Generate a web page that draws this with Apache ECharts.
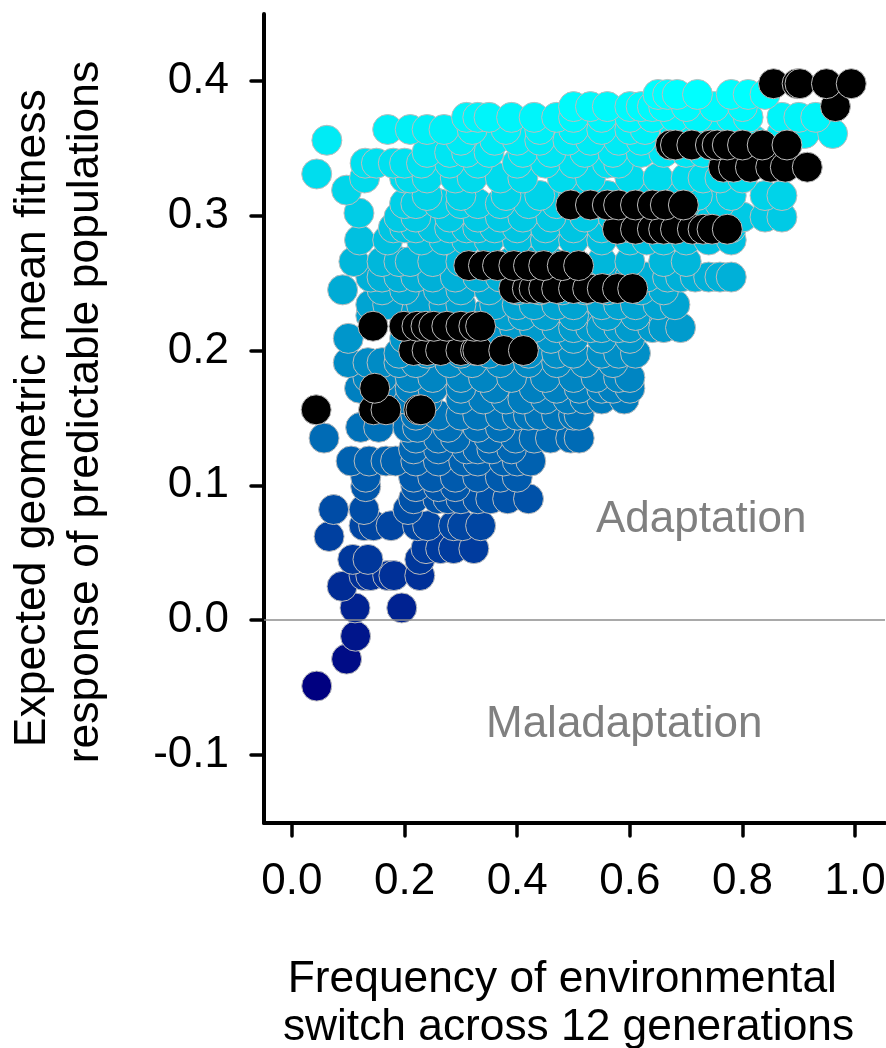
<!DOCTYPE html>
<html><head><meta charset="utf-8">
<style>html,body{margin:0;padding:0;background:#fff}#c{width:886px;height:1048px}</style>
<script src="https://cdn.jsdelivr.net/npm/echarts@6/dist/echarts.min.js"></script>
</head><body><div id="c"></div>
<script>
const xTicks=[0,0.2,0.4,0.6,0.8,1.0];
const yTicks=[-0.1,0,0.1,0.2,0.3,0.4];
const xTitle='Frequency of environmental\u00a0\nswitch across 12 generations';
const yTitle='Expected geometric mean fitness\u00a0\nresponse of predictable populations';
const rowLevels=[-0.049,-0.029,-0.012,0.009,0.025,0.033,0.045,0.053,0.062,0.07,0.082,0.09,0.099,0.106,0.118,0.127,0.135,0.143,0.152,0.164,0.172,0.18,0.191,0.198,0.209,0.217,0.226,0.234,0.245,0.2545,0.266,0.282,0.291,0.299,0.302,0.309,0.315,0.319,0.328,0.331,0.339,0.347,0.356,0.361,0.364,0.373,0.381,0.39];
const rowXs=[
[0.044],
[0.097],
[0.113],
[0.112,0.195],
[0.089],
[0.128,0.14,0.17,0.181,0.227],
[0.108,0.135,0.227],
[0.238,0.264,0.287,0.323],
[0.066],
[0.128,0.145,0.176,0.223,0.241,0.287,0.303,0.335],
[0.074,0.128,0.206],
[0.216,0.259,0.277,0.3,0.33,0.353,0.383,0.42],
[0.131,0.22,0.26,0.29],
[0.131,0.216,0.25,0.29,0.33,0.37,0.4],
[0.105,0.137,0.167,0.184,0.22,0.26,0.305,0.33,0.376,0.4,0.424],
[0.216,0.26,0.31,0.33,0.355,0.39],
[0.057,0.22,0.26,0.29,0.35,0.397,0.43,0.459,0.495,0.51],
[0.122,0.154,0.206,0.223,0.277,0.33,0.37],
[0.22,0.26,0.3,0.33,0.37,0.4,0.42,0.44,0.47,0.5,0.51],
[0.2,0.24,0.3,0.34,0.38,0.41,0.45,0.49,0.52,0.55,0.59],
[0.12,0.16,0.21,0.25,0.3,0.36,0.43,0.47,0.51,0.55,0.57,0.6],
[0.135,0.16,0.21,0.25,0.3,0.34,0.39,0.45,0.5,0.54,0.58,0.6],
[0.1,0.135,0.16,0.19,0.22,0.28,0.32,0.37,0.42,0.47,0.52,0.57],
[0.19,0.24,0.3,0.35,0.42,0.47,0.5,0.55,0.58,0.61],
[0.1,0.2,0.25,0.3,0.36,0.42,0.46,0.5,0.55,0.6],
[0.395,0.43,0.47,0.5,0.53,0.55,0.58,0.6,0.64,0.66,0.69],
[0.14,0.2,0.24,0.3,0.34,0.38,0.41,0.45,0.5,0.56,0.61],
[0.14,0.17,0.23,0.27,0.3,0.36,0.4,0.43,0.47,0.5,0.55,0.58,0.61,0.65,0.68],
[0.09,0.16,0.2,0.26,0.3,0.35,0.4,0.44,0.48,0.52,0.56,0.62,0.66],
[0.14,0.16,0.19,0.22,0.25,0.29,0.33,0.37,0.41,0.46,0.52,0.57,0.6,0.63,0.667,0.69,0.716,0.74,0.76,0.78],
[0.11,0.16,0.19,0.21,0.25,0.3,0.35,0.39,0.42,0.46,0.5,0.55,0.6,0.66,0.7],
[0.12,0.17,0.23,0.27,0.31,0.35,0.4,0.45,0.5,0.55,0.6,0.63,0.66,0.7,0.74,0.78],
[0.18,0.2,0.22,0.25,0.28,0.31,0.33,0.36,0.4,0.45,0.5,0.55,0.6,0.66,0.72,0.78],
[0.19,0.22,0.28,0.33,0.37,0.41,0.46,0.52,0.57,0.62,0.66,0.7,0.74,0.8,0.84,0.87],
[0.119],
[0.2,0.22,0.26,0.3,0.33,0.37,0.42,0.47,0.54,0.6,0.64,0.7,0.76],
[0.24,0.3,0.38,0.44,0.5,0.56,0.62,0.67,0.72,0.78,0.84,0.87],
[0.097],
[0.129,0.2,0.21,0.24,0.29,0.32,0.37,0.41,0.48,0.53,0.6,0.65,0.7,0.73,0.76,0.8],
[0.044],
[0.13,0.15,0.18,0.2,0.23,0.28,0.33,0.4,0.45,0.5,0.56,0.58],
[0.24,0.28,0.31,0.35,0.41,0.46,0.52,0.57,0.62,0.66,0.7,0.73],
[0.062,0.3,0.36,0.4,0.44,0.49,0.53,0.58,0.62,0.78,0.82],
[0.87,0.91,0.96],
[0.17,0.21,0.24,0.27,0.32,0.38,0.44,0.5,0.55,0.6,0.627,0.68,0.74,0.8],
[0.31,0.33,0.35,0.39,0.43,0.47,0.5,0.55,0.6,0.64,0.68,0.72,0.78,0.81,0.87,0.9,0.93],
[0.5,0.53,0.56,0.6,0.62,0.64,0.66,0.7,0.75,0.8],
[0.65,0.667,0.684,0.72,0.78,0.81,0.84]
];
const blackLevels=[0.156,0.172,0.2,0.218,0.246,0.263,0.29,0.308,0.336,0.3525,0.381,0.398];
const blackXs=[
[0.043,0.145,0.167,0.225,0.229],
[0.147],
[0.216,0.24,0.264,0.3,0.326,0.33,0.376,0.411],
[0.144,0.199,0.222,0.238,0.252,0.275,0.3,0.323,0.335],
[0.394,0.418,0.43,0.447,0.47,0.5,0.525,0.551,0.578,0.605],
[0.314,0.34,0.365,0.394,0.42,0.447,0.48,0.509],
[0.578,0.61,0.64,0.66,0.681,0.711,0.73,0.746,0.773],
[0.495,0.53,0.56,0.58,0.61,0.64,0.663,0.695],
[0.766,0.784,0.814,0.85,0.876,0.915],
[0.672,0.681,0.71,0.743,0.755,0.773,0.8,0.835,0.879],
[0.965],
[0.855,0.897,0.902,0.949,0.993]
];
const toPoints=(lv,xs)=>lv.flatMap((y,i)=>xs[i].map(x=>[x,y]));
const font='"Liberation Sans",Arial,sans-serif';
const chart=echarts.init(document.getElementById('c'),null,{renderer:'canvas'});
chart.setOption({
 animation:false,
 backgroundColor:'#fff',
 grid:{left:264,right:1,top:14,bottom:225,containLabel:false,outerBoundsMode:'none'},
 xAxis:{type:'value',min:-0.0496,max:1.053,
  axisLine:{onZero:false,lineStyle:{color:'#000',width:4,cap:'round'}},
  axisTick:{show:true,length:13,lineStyle:{color:'#000',width:3.5,cap:'round'},customValues:xTicks},
  axisLabel:{color:'#000',fontSize:44,fontFamily:font,margin:37,customValues:xTicks,formatter:v=>v.toFixed(1),hideOverlap:false},
  splitLine:{show:false},
  name:xTitle,nameLocation:'middle',nameGap:133,nameTextStyle:{color:'#000',fontSize:44.3,fontFamily:font,lineHeight:48,padding:[0,12,0,0]}
 },
 yAxis:{type:'value',min:-0.1506,max:0.4497,
  axisLine:{onZero:false,lineStyle:{color:'#000',width:4,cap:'round'}},
  axisTick:{show:true,length:13,lineStyle:{color:'#000',width:3.5,cap:'round'},customValues:yTicks},
  axisLabel:{color:'#000',fontSize:44,fontFamily:font,margin:35,customValues:yTicks,formatter:v=>v.toFixed(1),hideOverlap:false},
  splitLine:{show:false},
  name:yTitle,nameLocation:'middle',nameGap:152,nameTextStyle:{color:'#000',fontSize:44.5,fontFamily:font,lineHeight:53,padding:[0,0,0,13]}
 },
 visualMap:{show:false,type:'continuous',seriesIndex:0,dimension:1,min:-0.049,max:0.39,inRange:{color:['#000080','#00ffff']}},
 series:[
  {type:'scatter',data:toPoints(rowLevels,rowXs),symbolSize:30,itemStyle:{borderColor:'#bdbdbd',borderWidth:1,opacity:1},
   markLine:{silent:true,symbol:'none',label:{show:false},lineStyle:{color:'#8c8c8c',width:1.5,type:'solid'},data:[{yAxis:0}]},z:2},
  {type:'scatter',data:toPoints(blackLevels,blackXs),symbolSize:30,itemStyle:{color:'#000',borderColor:'#bdbdbd',borderWidth:1,opacity:1},z:3}
 ],
 graphic:[
  {type:'text',left:596,top:498,style:{text:'Adaptation',fill:'#808080',font:'44px '+font}},
  {type:'text',left:486,top:703,style:{text:'Maladaptation',fill:'#808080',font:'44px '+font}}
 ]
});
</script></body></html>
